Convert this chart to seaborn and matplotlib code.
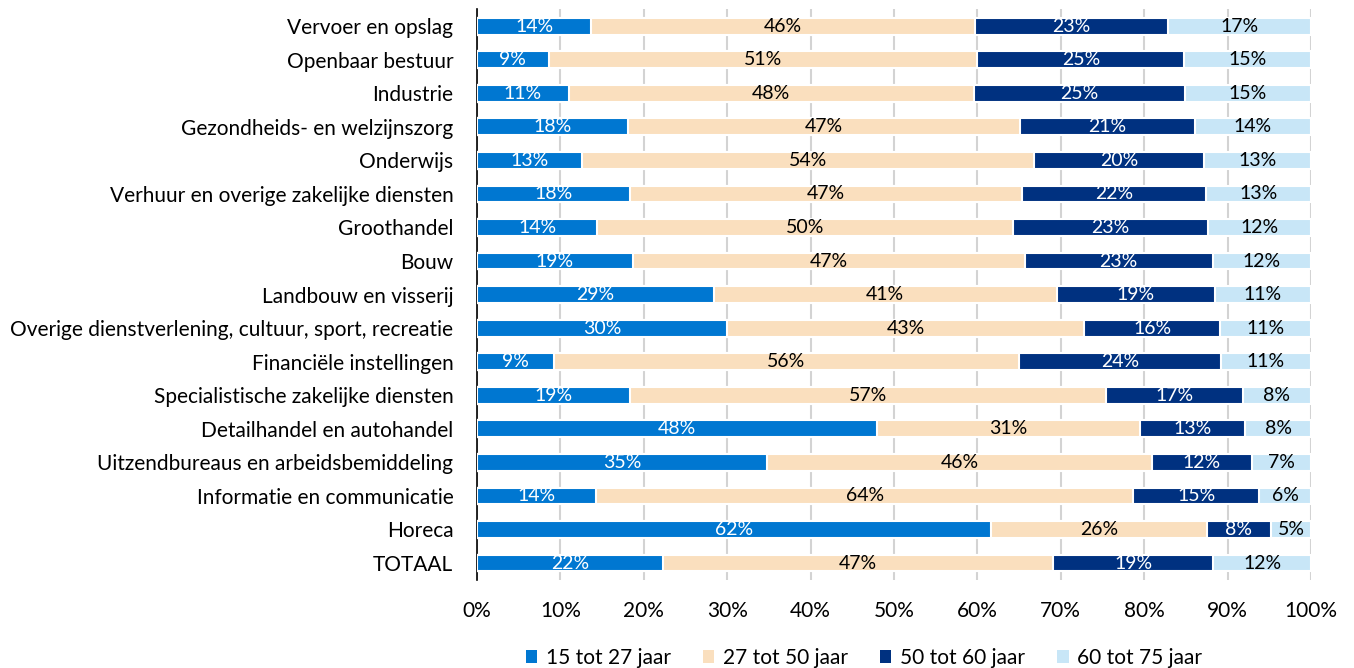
import numpy as np
import pandas as pd
import matplotlib
matplotlib.use("Agg")
import matplotlib.pyplot as plt
import seaborn as sns
from matplotlib.patches import Patch

# sectors, top to bottom
sectors = ["Vervoer en opslag", "Openbaar bestuur", "Industrie",
           "Gezondheids- en welzijnszorg", "Onderwijs",
           "Verhuur en overige zakelijke diensten", "Groothandel", "Bouw",
           "Landbouw en visserij",
           "Overige dienstverlening, cultuur, sport, recreatie",
           "Financiële instellingen", "Specialistische zakelijke diensten",
           "Detailhandel en autohandel",
           "Uitzendbureaus en arbeidsbemiddeling",
           "Informatie en communicatie", "Horeca", "TOTAAL"]

# share per age group (%), bar lengths
age_15_27 = [13.7, 8.6, 11.0, 18.1, 12.6, 18.3, 14.4, 18.7, 28.4, 30.0, 9.2, 18.3, 48.0, 34.8, 14.3, 61.6, 22.3]
age_27_50 = [46.0, 51.4, 48.6, 47.0, 54.2, 47.0, 49.9, 47.0, 41.1, 42.8, 55.8, 57.1, 31.5, 46.1, 64.4, 25.9, 46.8]
age_50_60 = [23.2, 24.8, 25.3, 21.0, 20.4, 22.1, 23.3, 22.5, 19.0, 16.3, 24.2, 16.4, 12.6, 12.0, 15.1, 7.7, 19.2]
age_60_75 = [17.1, 15.2, 15.1, 13.9, 12.8, 12.6, 12.4, 11.8, 11.5, 10.9, 10.8, 8.2, 7.9, 7.1, 6.2, 4.8, 11.7]

# labels as printed on the chart
lab_15_27 = [14, 9, 11, 18, 13, 18, 14, 19, 29, 30, 9, 19, 48, 35, 14, 62, 22]
lab_27_50 = [46, 51, 48, 47, 54, 47, 50, 47, 41, 43, 56, 57, 31, 46, 64, 26, 47]
lab_50_60 = [23, 25, 25, 21, 20, 22, 23, 23, 19, 16, 24, 17, 13, 12, 15, 8, 19]
lab_60_75 = [17, 15, 15, 14, 13, 13, 12, 12, 11, 11, 11, 8, 8, 7, 6, 5, 12]

groups = ["15 tot 27 jaar", "27 tot 50 jaar", "50 tot 60 jaar", "60 tot 75 jaar"]
colors = ["#0077D1", "#FADFBE", "#003180", "#C8E6F7"]
text_colors = ["white", "black", "white", "black"]

df = pd.DataFrame({"sector": sectors, groups[0]: age_15_27, groups[1]: age_27_50,
                   groups[2]: age_50_60, groups[3]: age_60_75})
labels = pd.DataFrame({groups[0]: lab_15_27, groups[1]: lab_27_50,
                       groups[2]: lab_50_60, groups[3]: lab_60_75})
vals = df[groups]
vals = vals.div(vals.sum(axis=1), axis=0) * 100
cum = vals.cumsum(axis=1)

plt.rcParams["font.family"] = ["Lato", "DejaVu Sans"]
fig, ax = plt.subplots(figsize=(13.54, 6.68), dpi=100)
fig.subplots_adjust(left=0.3523, right=0.9682, top=0.986, bottom=0.132)

# draw cumulative bars from the back to the front
for i in range(3, -1, -1):
    sns.barplot(x=cum[groups[i]], y=df["sector"], orient="h", color=colors[i],
                saturation=1, width=0.5, edgecolor="white", linewidth=1.5,
                ax=ax, zorder=3)

for r in range(len(df)):
    for i, g in enumerate(groups):
        center = cum[g].iloc[r] - vals[g].iloc[r] / 2
        ax.text(center, r, f"{labels[g].iloc[r]}%", ha="center", va="center",
                fontsize=14, color=text_colors[i], zorder=4)

ax.set_xlim(0, 100)
ax.set_ylim(len(df) - 0.5, -0.5)
ax.set_xticks(np.arange(0, 101, 10))
ax.set_xticklabels([f"{t}%" for t in range(0, 101, 10)])
ax.grid(axis="x", color="#d3d3d3", linewidth=1.5, zorder=0)
ax.set_axisbelow(True)
ax.set_xlabel("")
ax.set_ylabel("")
for s in ["top", "right", "bottom"]:
    ax.spines[s].set_visible(False)
ax.spines["left"].set_color("black")
ax.spines["left"].set_linewidth(1.2)
ax.tick_params(axis="both", length=0, labelsize=15)
ax.tick_params(axis="x", pad=15)
ax.tick_params(axis="y", pad=17)

handles = [Patch(facecolor=c, edgecolor="none") for c in colors]
fig.legend(handles, groups, loc="lower center", bbox_to_anchor=(0.638, -0.028), ncol=4,
           frameon=False, fontsize=15, handlelength=0.55, handleheight=0.55,
           handletextpad=0.4, columnspacing=1.55)

fig.savefig("out.png", dpi=100)
